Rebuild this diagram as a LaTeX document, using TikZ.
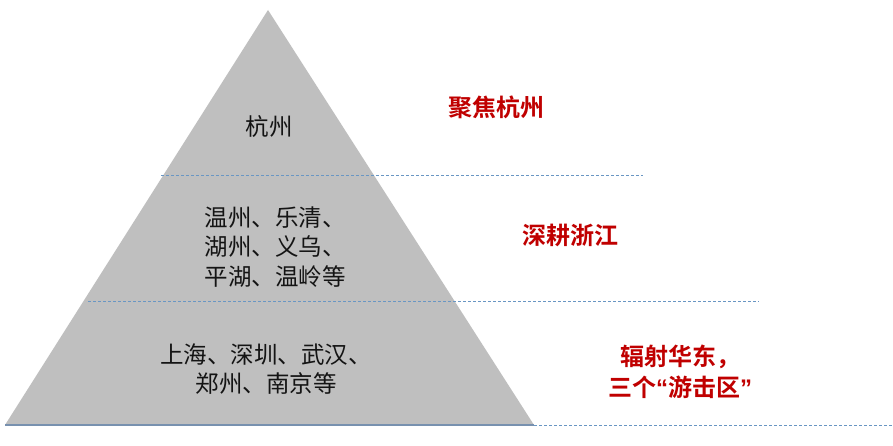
\documentclass[tikz,border=0pt]{standalone}
\usepackage{fontspec}
\newfontfamily\cjk{Noto Sans CJK SC}
\newfontfamily\cjkb{Noto Sans CJK SC Bold}
\newfontfamily\latb{Liberation Sans Bold}
\definecolor{pyrgray}{RGB}{191,191,191}
\definecolor{guideblue}{RGB}{105,150,195}
\definecolor{basecol}{RGB}{120,145,175}
\definecolor{labred}{RGB}{192,0,0}
\definecolor{txtblack}{RGB}{20,20,20}
\tikzset{
  citytext/.style={font=\cjk\fontsize{23.5}{29.5}\selectfont, text=txtblack, align=center, inner sep=0pt},
  labeltext/.style={font=\cjkb\fontsize{24}{31}\selectfont, text=labred, align=center, inner sep=0pt},
  guide/.style={draw=guideblue, line width=1pt, dash pattern=on 3pt off 2pt},
}
\begin{document}
\begin{tikzpicture}[x=1pt,y=-1pt]
\useasboundingbox (0,0) rectangle (893,446);
\fill[white] (0,0) rectangle (893,446);
% pyramid
\coordinate (apex) at (268,10);
\coordinate (bl) at (5,425);
\coordinate (br) at (534,425);
\fill[pyrgray] (apex) -- (bl) -- (br) -- cycle;
% guide lines
\coordinate (g1a) at (161,176);
\coordinate (g1b) at (643,176);
\coordinate (g2a) at (88,301);
\coordinate (g2b) at (759,301);
\coordinate (g3a) at (534,425.5);
\coordinate (g3b) at (893,425.5);
\draw[guide] (g1a) -- (g1b);
\draw[guide] (g2a) -- (g2b);
\draw[basecol, line width=1.5pt] (bl) -- (br);
\draw[guide] (g3a) -- (g3b);
% texts in pyramid
\node[citytext] (t1) at (269,127) {杭州};
\node[citytext] (t2) at (275,247) {温州、乐清、\\湖州、义乌、\\平湖、温岭等};
\node[citytext] (t3) at (266,369) {上海、深圳、武汉、\\郑州、南京等};
% labels
\node[labeltext] (l1) at (496,107) {聚焦杭州};
\node[labeltext] (l2) at (570,235) {深耕浙江};
\node[labeltext] (l3) at (680,372) {辐射华东，\\三个{\latb “}游击区{\latb ”}};
\end{tikzpicture}
\end{document}
